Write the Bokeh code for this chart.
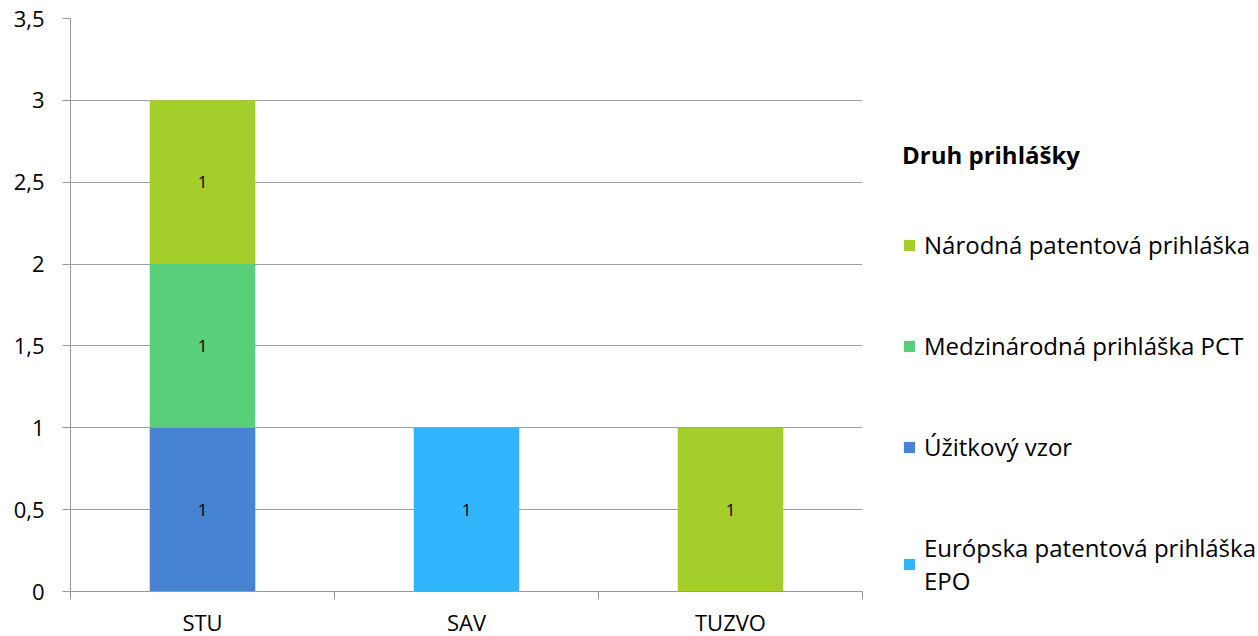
from bokeh.plotting import figure
from bokeh.models import (Range1d, FixedTicker, Legend, LegendItem, ColumnDataSource)
from bokeh.core.properties import value
from bokeh.embed import file_html
from bokeh.resources import INLINE

categories = ["STU", "SAV", "TUZVO"]
series_names = ["Európska patentová prihláška\nEPO", "Úžitkový vzor",
                "Medzinárodná prihláška PCT", "Národná patentová prihláška"]
epo = [0, 1, 0]
uzitkovy = [1, 0, 0]
pct = [1, 0, 0]
narodna = [1, 0, 1]
colors = ["#33B5FE", "#4683D3", "#5ACF79", "#A6CE2A"]
y_ticks = [0, 0.5, 1, 1.5, 2, 2.5, 3, 3.5]
y_tick_labels = ["0", "0,5", "1", "1,5", "2", "2,5", "3", "3,5"]

FONT = "Open Sans"
series = [epo, uzitkovy, pct, narodna]
keys = ["epo", "uzitkovy", "pct", "narodna"]
xpos = [i + 0.5 for i in range(len(categories))]

data = {"x": xpos}
for k, s in zip(keys, series):
    data[k] = s
src = ColumnDataSource(data)

p = figure(frame_width=792, frame_height=573, output_backend="svg", toolbar_location=None,
           x_range=Range1d(0, len(categories)), y_range=Range1d(0, 3.5),
           min_border_left=70, min_border_right=0, min_border_top=18,
           min_border_bottom=45)
p.outline_line_color = None
p.background_fill_color = "white"
p.border_fill_color = "white"

renderers = p.vbar_stack(keys, x="x", width=0.4, color=colors, source=src, line_color=None)

# value labels
lx, ly, lt = [], [], []
for i in range(len(categories)):
    base = 0
    for s in series:
        v = s[i]
        if v:
            lx.append(xpos[i]); ly.append(base + v / 2); lt.append(str(v))
        base += v
p.text(x=lx, y=ly, text=lt, text_align="center", text_baseline="middle",
       text_font=value(FONT), text_font_size="17px", text_color="black")

# axes
p.xaxis.ticker = FixedTicker(ticks=xpos, minor_ticks=list(range(len(categories) + 1)))
p.xaxis.major_label_overrides = {x: c for x, c in zip(xpos, categories)}
p.xaxis.major_tick_line_color = None
p.xaxis.minor_tick_line_color = "#999999"
p.xaxis.minor_tick_out = 8
p.xaxis.minor_tick_in = 0
p.xaxis.axis_line_color = "#999999"
p.xaxis.major_label_standoff = 7
p.xaxis.major_label_text_font = FONT
p.xaxis.major_label_text_font_size = "22px"
p.xaxis.major_label_text_color = "black"

p.yaxis.ticker = FixedTicker(ticks=y_ticks)
p.yaxis.major_label_overrides = {t: l for t, l in zip(y_ticks, y_tick_labels)}
p.yaxis.minor_tick_line_color = None
p.yaxis.major_tick_line_color = "#999999"
p.yaxis.major_tick_out = 8
p.yaxis.major_tick_in = 0
p.yaxis.axis_line_color = "#999999"
p.yaxis.major_label_standoff = 18
p.yaxis.major_label_text_font = FONT
p.yaxis.major_label_text_font_size = "22px"
p.yaxis.major_label_text_color = "black"

p.xgrid.grid_line_color = None
p.ygrid.grid_line_color = "#a0a0a0"
p.ygrid.ticker = FixedTicker(ticks=y_ticks)

items = [LegendItem(label=n, renderers=[r]) for n, r in zip(series_names, renderers)]
items = items[::-1]
legend = Legend(items=items, location=(40, -6), title="Druh prihlášky",
                title_text_font=FONT, title_text_font_style="bold",
                title_text_font_size="24px", title_text_color="black",
                title_standoff=57,
                label_text_font=FONT, label_text_font_size="24px",
                label_text_color="black",
                label_standoff=8, glyph_width=14, glyph_height=14,
                spacing=68, padding=0, margin=0, border_line_color=None,
                background_fill_alpha=0)
p.add_layout(legend, "right")

open("out.html", "w").write(file_html(p, INLINE))
